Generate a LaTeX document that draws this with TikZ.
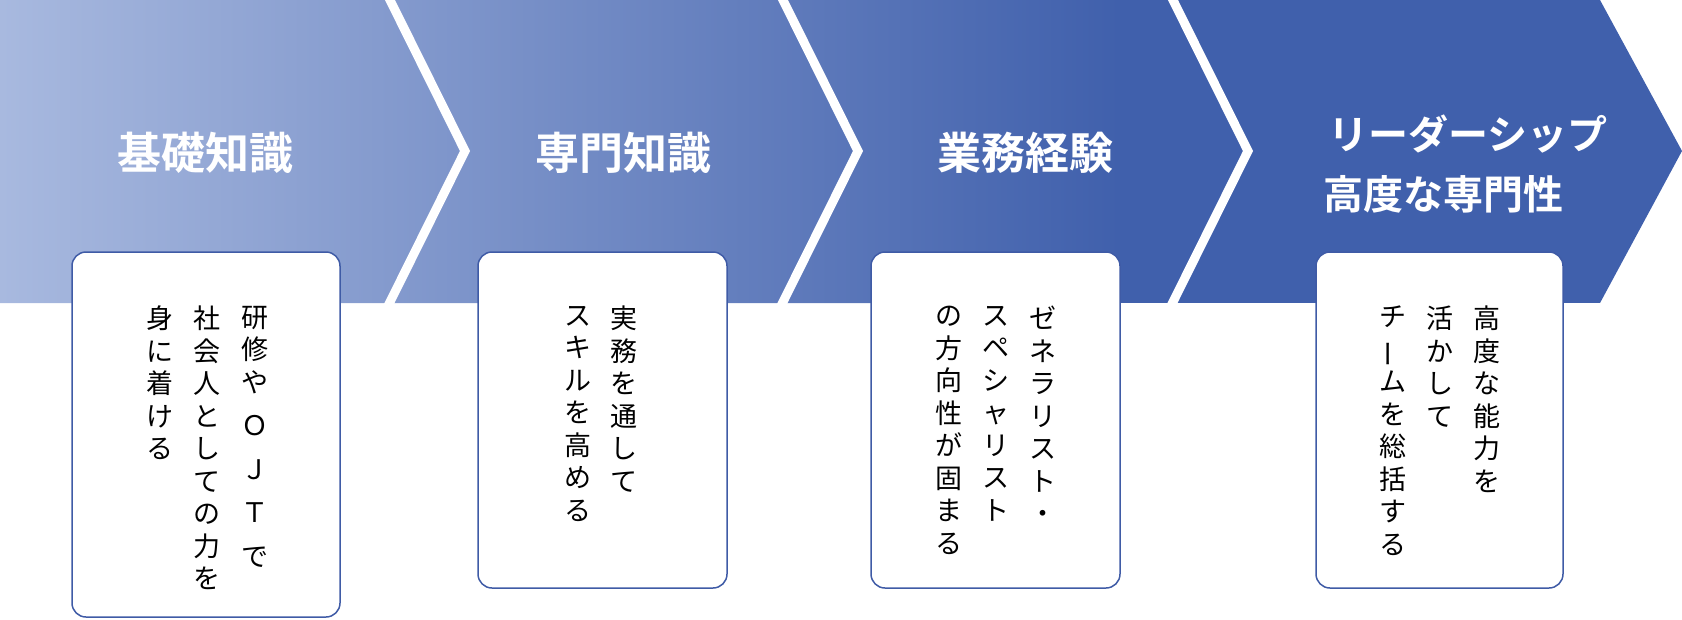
\documentclass[tikz,border=0pt]{standalone}
\usepackage{fontspec}
\setmainfont{Noto Sans CJK JP}
\newfontfamily\jpb{Noto Sans CJK JP Bold}
\begin{document}
\begin{tikzpicture}[x=1pt,y=-1pt,
  ttl/.style={text=white,font=\jpb\fontsize{44}{56}\selectfont,inner sep=0,align=center},
  card/.style={draw=boxblue,line width=1.5pt,fill=white,rounded corners=14pt},
  col/.style={anchor=north,inner sep=0,align=center,font=\fontsize{27}{32.5}\selectfont},
  gap/.style={draw=white,line width=9pt}]
\definecolor{cL}{HTML}{A8B9DF}
\definecolor{cR}{HTML}{4060AC}
\definecolor{boxblue}{HTML}{3F5BA6}
\useasboundingbox (0,0) rectangle (1682,619);
\begin{scope}
\clip (0,0) -- (1600,0) -- (1682,151) -- (1600,303) -- (0,303) -- cycle;
\shade[left color=cL,right color=cR] (0,0) rectangle (1120,303);
\fill[cR] (1119,0) rectangle (1682,303);
\end{scope}
\coordinate (g1a) at (385,-10); \coordinate (g1b) at (465,151); \coordinate (g1c) at (385,312);
\coordinate (g2a) at (778,-10); \coordinate (g2b) at (858,151); \coordinate (g2c) at (778,312);
\coordinate (g3a) at (1168,-10); \coordinate (g3b) at (1248,151); \coordinate (g3c) at (1168,312);
\draw[gap] (g1a) -- (g1b) -- (g1c);
\draw[gap] (g2a) -- (g2b) -- (g2c);
\draw[gap] (g3a) -- (g3b) -- (g3c);
\node[ttl] (t1) at (205,153) {基礎知識};
\node[ttl] (t2) at (623,153) {専門知識};
\node[ttl] (t3) at (1025,153) {業務経験};
\node[ttl,font=\jpb\fontsize{40}{50}\selectfont] (t4a) at (1468,134) {リーダーシップ};
\node[ttl,font=\jpb\fontsize{40}{50}\selectfont] (t4b) at (1443,194) {高度な専門性};
\draw[card] (72,252) rectangle (340,617);
\draw[card] (478,252) rectangle (727,588);
\draw[card] (871,252) rectangle (1120,588);
\draw[card] (1316,252) rectangle (1563,588);
\node[col] (c11) at (255,306) {研\\修\\や\\[11pt]Ｏ\\[11pt]Ｊ\\[11pt]Ｔ\\[11pt]で};
\node[col] (c12) at (207,306) {社\\会\\人\\と\\し\\て\\の\\力\\を};
\node[col] (c13) at (160,306) {身\\に\\着\\け\\る};
\node[col] (c21) at (624,306) {実\\務\\を\\通\\し\\て};
\node[col] (c22) at (578,306) {ス\\キ\\ル\\を\\高\\め\\る};
\node[col] (c31) at (1043,306) {ゼ\\ネ\\ラ\\リ\\ス\\ト\\・};
\node[col] (c32) at (996,306) {ス\\ペ\\シ\\ャ\\リ\\ス\\ト};
\node[col] (c33) at (949,306) {の\\方\\向\\性\\が\\固\\ま\\る};
\node[col] (c41) at (1487,306) {高\\度\\な\\能\\力\\を};
\node[col] (c42) at (1440,306) {活\\か\\し\\て};
\node[col] (c43) at (1393,306) {チ\\\rotatebox[origin=c]{90}{ー}\\ム\\を\\総\\括\\す\\る};
\end{tikzpicture}
\end{document}
